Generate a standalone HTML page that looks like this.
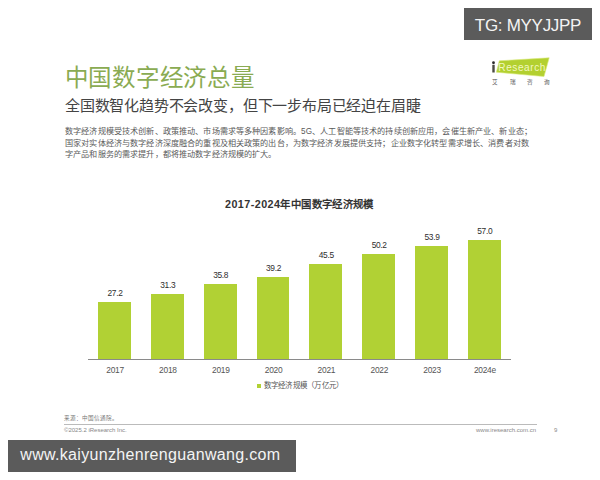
<!DOCTYPE html>
<html lang="zh-CN">
<head>
<meta charset="utf-8">
<style>
*{margin:0;padding:0;box-sizing:border-box;}
html,body{width:600px;height:480px;overflow:hidden;background:#fff;}
body{position:relative;font-family:"Liberation Sans",sans-serif;}
.abs{position:absolute;white-space:nowrap;}
#tg{left:464px;top:8px;width:128px;height:32px;background:#5b5b5b;color:#f4f4f4;font-size:17px;letter-spacing:-0.3px;line-height:36px;text-align:center;}
#wm{left:8px;top:440px;width:288px;height:32px;background:#5b5b5b;color:#f4f4f4;font-size:16px;letter-spacing:0.32px;line-height:29px;padding-left:12.3px;}
#title{left:64.5px;top:62px;font-size:23.5px;letter-spacing:0.8px;line-height:32px;color:#8aab52;font-weight:300;}
#sub{left:65px;top:96px;font-size:15px;letter-spacing:-0.19px;line-height:20px;color:#444;}
#body{left:65px;top:126.3px;font-size:8.15px;letter-spacing:0.14px;line-height:11.5px;color:#5a5a5a;}
#ctitle{left:225px;top:196px;font-size:10.4px;letter-spacing:0.35px;line-height:16px;color:#333;font-weight:bold;}
#ctitle span{font-size:10.75px;letter-spacing:0.45px;}
.bar{position:absolute;width:32.8px;background:#b1d134;}
.val{position:absolute;margin-top:-1px;width:60px;text-align:center;font-size:8.4px;letter-spacing:-0.3px;line-height:10px;color:#2e2e2e;}
.yr{position:absolute;width:60px;text-align:center;font-size:8.4px;letter-spacing:-0.25px;text-indent:0.25px;line-height:10px;color:#555;top:364.5px;}
#axis{left:88px;top:359px;width:423px;height:1px;background:#8a8a8a;z-index:2;}
#legsq{left:257.3px;top:383.5px;width:4px;height:4px;background:#b1d134;}
#leg{left:263.5px;top:381px;font-size:7.45px;letter-spacing:0.27px;line-height:10px;color:#555;}
#src{left:64px;top:414px;font-size:5.6px;line-height:8px;color:#777;}
#fline{left:64px;top:424px;width:473px;height:1px;background:#bbb;}
#copy{left:64px;top:426px;font-size:6px;line-height:8px;color:#888;}
#url{left:476px;top:426px;font-size:6px;line-height:8px;color:#888;}
#pg{left:554px;top:426px;font-size:6px;line-height:8px;color:#888;}
</style>
</head>
<body>
<div id="tg" class="abs">TG: MYYJJPP</div>

<div id="title" class="abs">中国数字经济总量</div>
<div id="sub" class="abs">全国数智化趋势不会改变，但下一步布局已经迫在眉睫</div>
<div id="body" class="abs">数字经济规模受技术创新、政策推动、市场需求等多种因素影响。5G、人工智能等技术的持续创新应用，会催生新产业、新业态；<br>国家对实体经济与数字经济深度融合的重视及相关政策的出台，为数字经济发展提供支持；企业数字化转型需求增长、消费者对数<br>字产品和服务的需求提升，都将推动数字经济规模的扩大。</div>

<!-- logo -->
<svg class="abs" style="left:480px;top:50px" width="80" height="40" viewBox="480 50 80 40">
<polygon points="499.3,60.8 549.2,57.8 544,76.5 496.3,72.2" fill="#b3d030" stroke="#d8ea7a" stroke-width="0.6" stroke-linejoin="round"/>
<circle cx="493.5" cy="62.75" r="1.4" fill="#2a2a2a"/>
<rect x="492.3" y="64.8" width="2.4" height="7.7" fill="#4a4a42"/>
<text x="498.3" y="71.4" font-family="Liberation Sans" font-size="10.1" letter-spacing="0.55" fill="#f2f8c0">Research</text>
<text x="492" y="84.2" font-family="Liberation Sans" font-size="5.6" fill="#555">艾</text>
<text x="509.5" y="84.2" font-family="Liberation Sans" font-size="5.6" fill="#555">瑞</text>
<text x="526.5" y="84.2" font-family="Liberation Sans" font-size="5.6" fill="#555">咨</text>
<text x="543.5" y="84.2" font-family="Liberation Sans" font-size="5.6" fill="#555">询</text>
</svg>

<div id="ctitle" class="abs"><span>2017-2024</span>年中国数字经济规模</div>

<div id="axis" class="abs"></div>
<div class="bar" style="left:98.00px;top:302.3px;height:57.2px"></div>
<div class="bar" style="left:150.86px;top:293.7px;height:65.8px"></div>
<div class="bar" style="left:203.72px;top:284px;height:75.5px"></div>
<div class="bar" style="left:256.58px;top:277.3px;height:82.2px"></div>
<div class="bar" style="left:309.44px;top:264px;height:95.5px"></div>
<div class="bar" style="left:362.30px;top:254.1px;height:105.4px"></div>
<div class="bar" style="left:415.16px;top:246px;height:113.5px"></div>
<div class="bar" style="left:468.02px;top:240.2px;height:119.3px"></div>

<div class="val" style="left:85px;top:289px">27.2</div>
<div class="val" style="left:137.8px;top:281px">31.3</div>
<div class="val" style="left:190.7px;top:271px">35.8</div>
<div class="val" style="left:243.5px;top:264px">39.2</div>
<div class="val" style="left:296.3px;top:251px">45.5</div>
<div class="val" style="left:349.2px;top:241px">50.2</div>
<div class="val" style="left:402px;top:233px">53.9</div>
<div class="val" style="left:454.8px;top:227px">57.0</div>

<div class="yr" style="left:85px">2017</div>
<div class="yr" style="left:137.8px">2018</div>
<div class="yr" style="left:190.7px">2019</div>
<div class="yr" style="left:243.5px">2020</div>
<div class="yr" style="left:296.3px">2021</div>
<div class="yr" style="left:349.2px">2022</div>
<div class="yr" style="left:402px">2023</div>
<div class="yr" style="left:454.8px">2024e</div>

<div id="legsq" class="abs"></div>
<div id="leg" class="abs">数字经济规模（万亿元）</div>

<div id="src" class="abs">来源：中国信通院。</div>
<div id="fline" class="abs"></div>
<div id="copy" class="abs">©2025.2 iResearch Inc.</div>
<div id="url" class="abs">www.iresearch.com.cn</div>
<div id="pg" class="abs">9</div>

<div id="wm" class="abs">www.kaiyunzhenrenguanwang.com</div>
</body>
</html>
